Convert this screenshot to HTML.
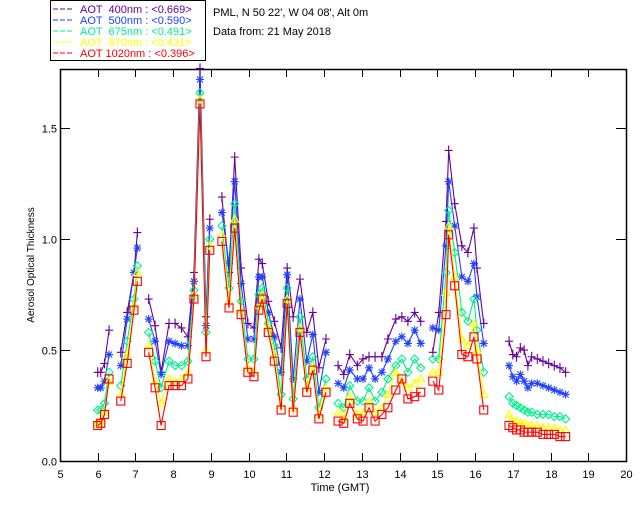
<!DOCTYPE html>
<html><head><meta charset="utf-8">
<style>
body{margin:0;background:#fff;}
svg{display:block;font-family:"Liberation Sans",sans-serif;}
</style></head>
<body>
<svg id="chart" width="640" height="512" viewBox="0 0 640 512" xmlns="http://www.w3.org/2000/svg">
<rect width="640" height="512" fill="#fff"/>
<g>
<rect x="50.5" y="0.5" width="155" height="60" fill="#fff" stroke="#000"/>
<g font-size="11">
<g><line x1="53" y1="9" x2="73" y2="9" stroke="#660099" stroke-dasharray="5,2"/><text x="80" y="13" fill="#660099" xml:space="preserve">AOT  400nm : &lt;0.669&gt;</text></g>
<g><line x1="53" y1="20" x2="73" y2="20" stroke="#1f3fff" stroke-dasharray="5,2"/><text x="80" y="24" fill="#1f3fff" xml:space="preserve">AOT  500nm : &lt;0.590&gt;</text></g>
<g><line x1="53" y1="31" x2="73" y2="31" stroke="#00f08a" stroke-dasharray="5,2"/><text x="80" y="35" fill="#00f08a" xml:space="preserve">AOT  675nm : &lt;0.491&gt;</text></g>
<g><line x1="53" y1="42" x2="73" y2="42" stroke="#ffff00" stroke-dasharray="5,2"/><text x="80" y="46" fill="#ffff00" xml:space="preserve">AOT  870nm : &lt;0.431&gt;</text></g>
<g><line x1="53" y1="53" x2="73" y2="53" stroke="#ff0000" stroke-dasharray="5,2"/><text x="80" y="57" fill="#ff0000" xml:space="preserve">AOT 1020nm : &lt;0.396&gt;</text></g>
</g>
</g>
<text x="213" y="16" font-size="11">PML, N 50 22', W 04 08', Alt 0m</text>
<text x="213" y="35" font-size="11">Data from: 21 May 2018</text>
<text transform="translate(34,265) rotate(-90)" text-anchor="middle" font-size="10">Aerosol Optical Thickness</text>
<text x="340" y="491" text-anchor="middle" font-size="11">Time (GMT)</text>
<g id="axes"></g>
<g id="plot"></g>
</svg>
<script>
const times=[6.0,6.08,6.18,6.3, 6.61,6.78,6.96,7.05,
7.35,7.52,7.68,7.89,8.05,8.22,8.39,8.55,8.71,8.87,8.97,
9.29,9.48,9.63,9.80,9.98,10.14,10.27,10.36,10.52,10.68,10.86,11.02,11.18,11.36,11.54,11.70,11.86,12.05,
12.37,12.52,12.68,12.88,13.03,13.19,13.35,13.53,13.69,13.90,14.06,14.22,14.40,14.56,
14.88,15.04,15.23,15.30,15.46,15.65,15.81,15.97,16.05,16.23,
16.9,17.0,17.1,17.2,17.3,17.4,17.5,17.65,17.8,17.95,18.1,18.25,18.4];
const aot400=[0.40,0.40,0.44,0.59, 0.49,0.67,0.85,1.03,
0.73,0.61,0.40,0.62,0.62,0.60,0.56,0.85,1.77,0.65,1.09,
1.19,0.85,1.37,0.87,0.62,0.60,0.91,0.89,0.72,0.63,0.51,0.87,0.65,0.82,0.58,0.67,0.42,0.55,
0.43,0.39,0.48,0.43,0.46,0.47,0.47,0.47,0.55,0.64,0.65,0.63,0.67,0.63,
0.49,0.67,1.08,1.40,1.16,0.97,0.94,1.05,0.87,0.62,
0.54,0.48,0.47,0.51,0.50,0.43,0.47,0.46,0.45,0.44,0.43,0.42,0.40];
const aot500=[0.33,0.33,0.36,0.48, 0.43,0.64,0.85,0.96,
0.64,0.54,0.39,0.54,0.53,0.52,0.52,0.81,1.72,0.61,1.05,
1.12,0.89,1.26,0.80,0.55,0.55,0.83,0.83,0.67,0.56,0.40,0.84,0.37,0.73,0.45,0.57,0.31,0.49,
0.35,0.33,0.41,0.37,0.37,0.42,0.37,0.40,0.46,0.54,0.56,0.53,0.59,0.53,
0.60,0.59,0.97,1.26,1.06,0.83,0.81,0.89,0.74,0.53,
0.43,0.38,0.36,0.39,0.36,0.33,0.35,0.35,0.34,0.33,0.32,0.31,0.30];
const aot675=[0.23,0.23,0.26,0.40, 0.34,0.54,0.73,0.88,
0.58,0.45,0.33,0.45,0.43,0.43,0.45,0.77,1.66,0.58,1.00,
1.06,0.78,1.16,0.72,0.46,0.46,0.75,0.78,0.62,0.52,0.30,0.78,0.28,0.65,0.37,0.47,0.24,0.37,
0.26,0.24,0.34,0.27,0.27,0.33,0.27,0.31,0.37,0.43,0.46,0.40,0.46,0.42,
0.46,0.46,0.85,1.13,0.94,0.67,0.63,0.73,0.59,0.40,
0.29,0.26,0.25,0.24,0.23,0.22,0.22,0.21,0.21,0.21,0.20,0.20,0.19];
const aot870=[0.17,0.18,0.22,0.36, 0.30,0.48,0.70,0.85,
0.52,0.36,0.26,0.37,0.36,0.37,0.40,0.75,1.63,0.50,0.97,
1.02,0.72,1.09,0.68,0.42,0.40,0.70,0.75,0.60,0.48,0.25,0.73,0.24,0.60,0.33,0.43,0.21,0.33,
0.22,0.19,0.29,0.21,0.22,0.27,0.22,0.24,0.30,0.40,0.36,0.33,0.35,0.37,
0.40,0.40,0.76,1.06,0.83,0.55,0.52,0.62,0.50,0.30,
0.21,0.18,0.18,0.17,0.17,0.16,0.16,0.16,0.15,0.15,0.15,0.14,0.14];
const aot1020=[0.16,0.17,0.21,0.37, 0.27,0.44,0.68,0.81,
0.49,0.33,0.16,0.34,0.34,0.34,0.37,0.73,1.61,0.47,0.95,
0.99,0.69,1.05,0.66,0.40,0.38,0.68,0.73,0.58,0.45,0.23,0.71,0.22,0.58,0.31,0.41,0.19,0.31,
0.18,0.17,0.26,0.19,0.18,0.24,0.18,0.21,0.24,0.32,0.37,0.28,0.29,0.31,
0.36,0.32,0.66,1.02,0.79,0.48,0.47,0.56,0.46,0.23,
0.16,0.15,0.14,0.14,0.13,0.13,0.13,0.13,0.12,0.12,0.12,0.11,0.11];
const xTicks=[5,6,7,8,9,10,11,12,13,14,15,16,17,18,19,20];
const yTicks=[0,0.5,1.0,1.5];
const yTickLabels=["0.0","0.5","1.0","1.5"];

const X0=60,X1=626,Y0=461,YT=69;
const xScale=h=>X0+(h-5)/15*(X1-X0);
const yScale=v=>Y0-v*221.8;
const NS="http://www.w3.org/2000/svg";
function mk(tag,attrs,parent){const e=document.createElementNS(NS,tag);for(const k in attrs)e.setAttribute(k,attrs[k]);parent.appendChild(e);return e;}
const axes=document.getElementById('axes');
const frame=mk('rect',{x:X0+0.5,y:YT+0.5,width:X1-X0,height:Y0-YT,fill:'none',stroke:'#000','stroke-width':1.5},axes);


xTicks.forEach(h=>{
  const x=Math.round(xScale(h))+0.5;
  const t1=mk('line',{x1:x,y1:Y0,x2:x,y2:Y0-8,stroke:'#000'},axes);
  
  
  const t2=mk('line',{x1:x,y1:YT,x2:x,y2:YT+8,stroke:'#000'},axes);
  
  
  const l=mk('text',{x:x,y:Y0+17,'text-anchor':'middle','font-size':11},axes);
  l.textContent=h;
  
  
});
yTicks.forEach((v,i)=>{
  const y=Math.round(yScale(v))+0.5;
  const t1=mk('line',{x1:X0,y1:y,x2:X0+10,y2:y,stroke:'#000'},axes);
  
  
  const t2=mk('line',{x1:X1,y1:y,x2:X1-10,y2:y,stroke:'#000'},axes);
  
  
  const l=mk('text',{x:X0-3,y:y+4,'text-anchor':'end','font-size':11},axes);
  l.textContent=yTickLabels[i];
  
  
});
const plot=document.getElementById('plot');
const series=[
 {name:'aot-400',vals:aot400,color:'#660099',m:'plus'},
 {name:'aot-500',vals:aot500,color:'#1f3fff',m:'star'},
 {name:'aot-675',vals:aot675,color:'#00f08a',m:'diamond'},
 {name:'aot-870',vals:aot870,color:'#ffff00',m:'tri'},
 {name:'aot-1020',vals:aot1020,color:'#ff0000',m:'square'}];
series.forEach(s=>{
  const g=mk('g',{},plot);
  
  
  let d='';
  times.forEach((t,i)=>{
    const x=xScale(t),y=yScale(s.vals[i]);
    const brk=i===0||t-times[i-1]>0.28;
    d+=(brk?'M':'L')+x.toFixed(1)+','+y.toFixed(1);
  });
  const p=mk('path',{d:d,fill:'none',stroke:s.color,'stroke-width':1.1},g);
  
  
  times.forEach((t,i)=>{
    const x=xScale(t),y=yScale(s.vals[i]);let e;
    const st={stroke:s.color,fill:'none','stroke-width':1.1};
    if(s.m==='plus'){e=mk('path',Object.assign({d:`M${x-4},${y}H${x+4}M${x},${y-5}V${y+5}`},st),g);}
    else if(s.m==='star'){e=mk('path',Object.assign({d:`M${x-4},${y}H${x+4}M${x},${y-4}V${y+4}M${x-3},${y-3}L${x+3},${y+3}M${x-3},${y+3}L${x+3},${y-3}`},st),g);}
    else if(s.m==='diamond'){e=mk('path',Object.assign({d:`M${x},${y-4}L${x+4},${y}L${x},${y+4}L${x-4},${y}Z`},st),g);}
    else if(s.m==='tri'){e=mk('path',Object.assign({d:`M${x},${y-4}L${x+4},${y+3}L${x-4},${y+3}Z`},st),g);}
    else {e=mk('rect',Object.assign({x:x-4,y:y-4,width:8,height:8},st),g);}
    
    
  });
});
</script>
</body></html>
